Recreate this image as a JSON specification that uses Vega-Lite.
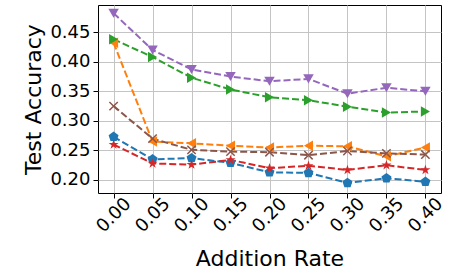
{
  "$schema": "https://vega.github.io/schema/vega-lite/v6.json",
  "width": 343,
  "height": 188,
  "autosize": {"type": "none"},
  "padding": {"left": 98, "top": 5, "right": 9, "bottom": 77},
  "config": {
    "font": "DejaVu Sans",
    "view": {"stroke": "black", "strokeWidth": 1},
    "axis": {
      "domain": false,
      "gridColor": "#c4c4c4",
      "gridWidth": 1,
      "tickColor": "black",
      "tickSize": 5,
      "tickWidth": 1,
      "labelColor": "black",
      "titleColor": "black",
      "labelFontSize": 18,
      "titleFontSize": 22,
      "titleFontWeight": "normal",
      "labelFont": "DejaVu Sans",
      "titleFont": "DejaVu Sans",
      "labelOverlap": false
    }
  },
  "data": {
    "values": [
      {"x": 0.00, "s": "S1", "y": 0.273}, {"x": 0.05, "s": "S1", "y": 0.235}, {"x": 0.10, "s": "S1", "y": 0.237}, {"x": 0.15, "s": "S1", "y": 0.229}, {"x": 0.20, "s": "S1", "y": 0.213}, {"x": 0.25, "s": "S1", "y": 0.212}, {"x": 0.30, "s": "S1", "y": 0.195}, {"x": 0.35, "s": "S1", "y": 0.203}, {"x": 0.40, "s": "S1", "y": 0.197},
      {"x": 0.00, "s": "S2", "y": 0.432}, {"x": 0.05, "s": "S2", "y": 0.265}, {"x": 0.10, "s": "S2", "y": 0.262}, {"x": 0.15, "s": "S2", "y": 0.258}, {"x": 0.20, "s": "S2", "y": 0.255}, {"x": 0.25, "s": "S2", "y": 0.258}, {"x": 0.30, "s": "S2", "y": 0.257}, {"x": 0.35, "s": "S2", "y": 0.240}, {"x": 0.40, "s": "S2", "y": 0.255},
      {"x": 0.00, "s": "S3", "y": 0.438}, {"x": 0.05, "s": "S3", "y": 0.408}, {"x": 0.10, "s": "S3", "y": 0.373}, {"x": 0.15, "s": "S3", "y": 0.353}, {"x": 0.20, "s": "S3", "y": 0.340}, {"x": 0.25, "s": "S3", "y": 0.335}, {"x": 0.30, "s": "S3", "y": 0.324}, {"x": 0.35, "s": "S3", "y": 0.314}, {"x": 0.40, "s": "S3", "y": 0.316},
      {"x": 0.00, "s": "S4", "y": 0.260}, {"x": 0.05, "s": "S4", "y": 0.228}, {"x": 0.10, "s": "S4", "y": 0.226}, {"x": 0.15, "s": "S4", "y": 0.234}, {"x": 0.20, "s": "S4", "y": 0.220}, {"x": 0.25, "s": "S4", "y": 0.224}, {"x": 0.30, "s": "S4", "y": 0.217}, {"x": 0.35, "s": "S4", "y": 0.225}, {"x": 0.40, "s": "S4", "y": 0.217},
      {"x": 0.00, "s": "S5", "y": 0.482}, {"x": 0.05, "s": "S5", "y": 0.420}, {"x": 0.10, "s": "S5", "y": 0.387}, {"x": 0.15, "s": "S5", "y": 0.375}, {"x": 0.20, "s": "S5", "y": 0.367}, {"x": 0.25, "s": "S5", "y": 0.371}, {"x": 0.30, "s": "S5", "y": 0.346}, {"x": 0.35, "s": "S5", "y": 0.356}, {"x": 0.40, "s": "S5", "y": 0.350},
      {"x": 0.00, "s": "S6", "y": 0.325}, {"x": 0.05, "s": "S6", "y": 0.270}, {"x": 0.10, "s": "S6", "y": 0.251}, {"x": 0.15, "s": "S6", "y": 0.248}, {"x": 0.20, "s": "S6", "y": 0.247}, {"x": 0.25, "s": "S6", "y": 0.242}, {"x": 0.30, "s": "S6", "y": 0.249}, {"x": 0.35, "s": "S6", "y": 0.245}, {"x": 0.40, "s": "S6", "y": 0.243}
    ]
  },
  "encoding": {
    "x": {
      "field": "x", "type": "quantitative",
      "scale": {"domain": [-0.02, 0.42], "nice": false, "zero": false},
      "axis": {"values": [0, 0.05, 0.1, 0.15, 0.2, 0.25, 0.3, 0.35, 0.4], "format": ".2f", "labelAngle": -45, "labelAlign": "center", "labelBaseline": "middle", "labelPadding": 17, "title": "Addition Rate", "titlePadding": 13}
    },
    "y": {
      "field": "y", "type": "quantitative",
      "scale": {"domain": [0.178, 0.496], "nice": false, "zero": false},
      "axis": {"values": [0.2, 0.25, 0.3, 0.35, 0.4, 0.45], "format": ".2f", "labelPadding": 3, "title": "Test Accuracy", "titlePadding": 4}
    },
    "color": {
      "field": "s", "type": "nominal", "legend": null,
      "scale": {"domain": ["S1", "S2", "S3", "S4", "S5", "S6"], "range": ["#1f77b4", "#ff7f0e", "#2ca02c", "#d62728", "#9467bd", "#8c564b"]}
    }
  },
  "layer": [
    {"mark": {"type": "line", "strokeDash": [7, 3], "strokeWidth": 2}},
    {
      "transform": [{"filter": "datum.s !== 'S6'"}],
      "mark": {"type": "point", "filled": true, "opacity": 1, "size": 110},
      "encoding": {
        "shape": {
          "field": "s", "type": "nominal", "legend": null,
          "scale": {"domain": ["S1", "S2", "S3", "S4", "S5"], "range": [
            "M0,-1L0.951,-0.309L0.588,0.809L-0.588,0.809L-0.951,-0.309Z",
            "triangle-left",
            "triangle-right",
            "M0,-1L0.2245,-0.309L0.951,-0.309L0.363,0.118L0.588,0.809L0,0.382L-0.588,0.809L-0.363,0.118L-0.951,-0.309L-0.2245,-0.309Z",
            "triangle-down"
          ]}
        }
      }
    },
    {
      "transform": [{"filter": "datum.s === 'S6'"}],
      "mark": {"type": "point", "filled": false, "opacity": 1, "size": 70, "strokeWidth": 1.5, "shape": "M-1,-1L1,1M-1,1L1,-1"}
    }
  ]
}
